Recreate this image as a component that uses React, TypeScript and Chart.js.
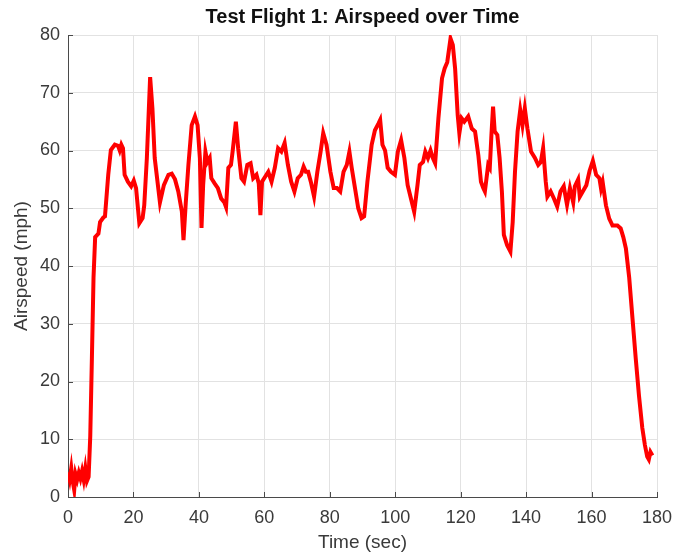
import React, { useEffect, useRef } from "react";
import { Chart, registerables } from "chart.js";

Chart.register(...registerables);

// Airspeed log for test flight 1 (time in seconds, airspeed in mph)
const timeSec: number[] = [
  0, 0.5, 1.0, 1.5, 1.9, 2.3, 2.8, 3.3, 3.8, 4.3, 4.8, 5.3, 5.8, 6.3, 6.8, 7.3, 7.8, 8.3, 9.3, 9.8,
  10.8, 11.3, 12.3, 13.1, 14.3, 15.3, 15.8, 16.3, 16.8, 17.3, 18.3, 19.3, 20.1, 20.8, 21.8, 22.8, 23.3, 24.1, 25.1, 25.8,
  26.5, 28.1, 29.3, 30.7, 31.7, 32.7, 33.7, 34.8, 35.3, 36.0, 36.8, 37.8, 38.8, 39.6, 40.3, 40.8, 41.3, 42.0, 42.6, 43.3,
  43.8, 44.8, 45.8, 46.8, 47.8, 48.3, 49.0, 49.8, 50.3, 51.3, 52.0, 53.0, 53.8, 54.8, 55.8, 56.6, 57.6, 58.3, 58.8, 59.3,
  60.3, 61.2, 62.2, 63.2, 64.2, 65.2, 66.2, 67.2, 68.2, 69.2, 70.2, 71.2, 72.0, 72.7, 73.4, 74.2, 75.2, 76.2, 77.2, 78.0,
  79.0, 80.2, 81.2, 82.2, 83.2, 84.2, 85.2, 86.0, 86.7, 87.7, 88.7, 89.7, 90.5, 91.5, 92.8, 93.8, 94.9, 95.4, 96.1, 96.9,
  97.7, 98.7, 99.9, 100.8, 101.8, 102.8, 103.8, 104.8, 105.8, 106.8, 107.5, 108.5, 109.2, 110.0, 110.8, 111.5, 112.2, 113.2, 114.3, 115.1,
  115.9, 116.9, 117.6, 118.3, 119.1, 119.6, 120.3, 121.1, 122.3, 123.4, 124.4, 125.4, 126.2, 126.9, 127.4, 127.9, 128.4, 128.9, 129.4, 129.9,
  130.4, 131.2, 131.9, 132.6, 133.2, 134.2, 135.2, 135.9, 136.6, 137.4, 138.2, 138.9, 139.6, 140.4, 141.5, 142.7, 143.7, 144.5, 145.2, 146.0,
  146.5, 147.5, 148.5, 149.5, 150.5, 151.5, 152.5, 153.4, 154.4, 154.9, 155.9, 156.4, 157.4, 158.4, 159.4, 160.4, 161.4, 162.4, 162.9, 163.4,
  164.4, 165.4, 166.4, 167.9, 168.9, 169.7, 170.5, 171.5, 172.5, 173.5, 174.5, 175.5, 176.3, 177.0, 177.5, 178.0, 178.6,
];

const airspeedMph: number[] = [
  4.3, 3.0, 5.0, 2.5, 1.2, 4.0, 3.0, 4.2, 3.2, 4.5, 3.0, 5.0, 2.8, 3.5, 10.5, 24, 38, 45, 45.6, 47.6,
  48.4, 48.6, 55.8, 60.1, 61, 60.8, 60, 61, 60.4, 55.8, 54.6, 53.8, 54.8, 53.5, 47.4, 48.3, 50.5, 58.7, 72.7, 67.3,
  58.7, 51, 54, 55.8, 56, 55, 52.9, 49.4, 44.5, 51, 57.5, 64.4, 65.9, 64.4, 58.7, 46.6, 54, 59.8, 58, 58.7,
  55.2, 54.3, 53.5, 51.7, 51, 50.2, 57, 57.5, 59.8, 65, 60.4, 55.2, 54.6, 57.5, 57.8, 55.2, 55.8, 54.3, 48.8, 54.6,
  55.5, 56.3, 54.6, 57, 60.4, 59.8, 61.3, 57.5, 54.6, 52.9, 55.2, 55.8, 57.2, 56.3, 56.3, 54.6, 52, 56.3, 59.8, 63,
  61, 56.3, 53.5, 53.5, 52.9, 56.3, 57.5, 59.8, 57, 53.5, 50, 48.3, 48.6, 54.6, 61, 63.5, 64.7, 65.3, 61, 60,
  57, 56.3, 55.8, 59.8, 61.8, 58.7, 54, 51.7, 49.4, 54, 57.5, 58, 59.8, 58.7, 60, 58.7, 57.8, 65.6, 72.5, 74.2,
  75.3, 79.4, 78.3, 74.2, 66.1, 63, 65.6, 65, 65.9, 63.8, 63.3, 59.2, 54.6, 53.5, 52.9, 55.2, 57.5, 57, 62.7, 67.6,
  63.3, 62.7, 58.7, 52.9, 45.4, 43.6, 42.5, 47.6, 56.3, 63.3, 67, 64.4, 67.3, 63.8, 59.8, 58.7, 57.5, 58, 60.4, 54.6,
  52, 52.9, 51.7, 50.3, 52.9, 53.8, 50.6, 53.5, 51, 53.8, 55, 52, 53, 54, 56.5, 58.2, 55.8, 55.2, 53.4, 54.5,
  50.5, 48.2, 47, 47, 46.5, 45, 43, 38, 31, 24, 17.5, 12, 9, 7, 6.5, 7.8, 7.2,
];

const xTickValues: number[] = [0, 20, 40, 60, 80, 100, 120, 140, 160, 180];
const yTickValues: number[] = [0, 10, 20, 30, 40, 50, 60, 70, 80];

const chartTitle = "Test Flight 1: Airspeed over Time";
const xLabel = "Time (sec)";
const yLabel = "Airspeed (mph)";

const FONT = "'Liberation Sans', Arial, Helvetica, sans-serif";
const AXIS_COLOR = "#4a4a4a";
const TEXT_COLOR = "#3a3a3a";
const GRID_COLOR = "#e2e2e2";

// Inward tick marks, axis titles and the chart title
const decorations = {
  id: "decorations",
  afterDraw(chart: any) {
    const { ctx, chartArea } = chart;
    const { left, right, top, bottom } = chartArea;
    const xs = chart.scales.x;
    const ys = chart.scales.y;
    ctx.save();
    ctx.strokeStyle = AXIS_COLOR;
    ctx.lineWidth = 1;
    ctx.beginPath();
    for (const v of xTickValues) {
      const px = Math.round(xs.getPixelForValue(v)) + 0.5;
      ctx.moveTo(px, bottom);
      ctx.lineTo(px, bottom - 5);
    }
    for (const v of yTickValues) {
      const py = Math.round(ys.getPixelForValue(v)) + 0.5;
      ctx.moveTo(left, py);
      ctx.lineTo(left + 5, py);
    }
    ctx.stroke();

    const cx = (left + right) / 2;
    ctx.fillStyle = "#111";
    ctx.font = `bold 20px ${FONT}`;
    ctx.textAlign = "center";
    ctx.textBaseline = "middle";
    ctx.fillText(chartTitle, cx, 17);

    ctx.fillStyle = TEXT_COLOR;
    ctx.font = `19px ${FONT}`;
    ctx.fillText(xLabel, cx, 543);

    ctx.translate(22, (top + bottom) / 2);
    ctx.rotate(-Math.PI / 2);
    ctx.fillText(yLabel, 0, 0);
    ctx.restore();
  },
};

export default function App() {
  const canvasRef = useRef<HTMLCanvasElement | null>(null);

  useEffect(() => {
    document.body.style.margin = "0";
    const canvas = canvasRef.current;
    if (!canvas) return;
    const points = timeSec.map((t, i) => ({ x: t, y: airspeedMph[i] }));
    const chart = new Chart(canvas, {
      type: "line",
      data: {
        datasets: [
          {
            data: points,
            borderColor: "#ff0000",
            borderWidth: 4,
            pointRadius: 0,
            tension: 0,
            fill: false,
          },
        ],
      },
      options: {
        animation: false,
        responsive: true,
        maintainAspectRatio: false,
        layout: { padding: { top: 35, right: 16, left: 0, bottom: 0 } },
        plugins: {
          legend: { display: false },
          tooltip: { enabled: false },
          title: { display: false },
        },
        scales: {
          x: {
            type: "linear",
            min: 0,
            max: 180,
            afterBuildTicks: (scale: any) => {
              scale.ticks = xTickValues.map((v) => ({ value: v }));
            },
            afterFit: (scale: any) => {
              scale.height = 59;
              scale.paddingLeft = 0;
              scale.paddingRight = 0;
            },
            grid: { color: GRID_COLOR, drawTicks: false, lineWidth: 1 },
            border: { display: true, color: AXIS_COLOR, width: 1 },
            ticks: {
              padding: 10,
              color: TEXT_COLOR,
              font: { family: FONT, size: 18 },
              maxRotation: 0,
            },
          },
          y: {
            type: "linear",
            min: 0,
            max: 80,
            afterBuildTicks: (scale: any) => {
              scale.ticks = yTickValues.map((v) => ({ value: v }));
            },
            afterFit: (scale: any) => {
              scale.width = 68;
              scale.paddingTop = 0;
              scale.paddingBottom = 0;
            },
            grid: { color: GRID_COLOR, drawTicks: false, lineWidth: 1 },
            border: { display: true, color: AXIS_COLOR, width: 1 },
            ticks: {
              padding: 8,
              color: TEXT_COLOR,
              font: { family: FONT, size: 18 },
            },
          },
        },
      },
      plugins: [decorations],
    });
    return () => chart.destroy();
  }, []);

  return (
    <div style={{ width: 673, height: 556, position: "relative", background: "#fff" }}>
      <canvas ref={canvasRef} />
    </div>
  );
}
